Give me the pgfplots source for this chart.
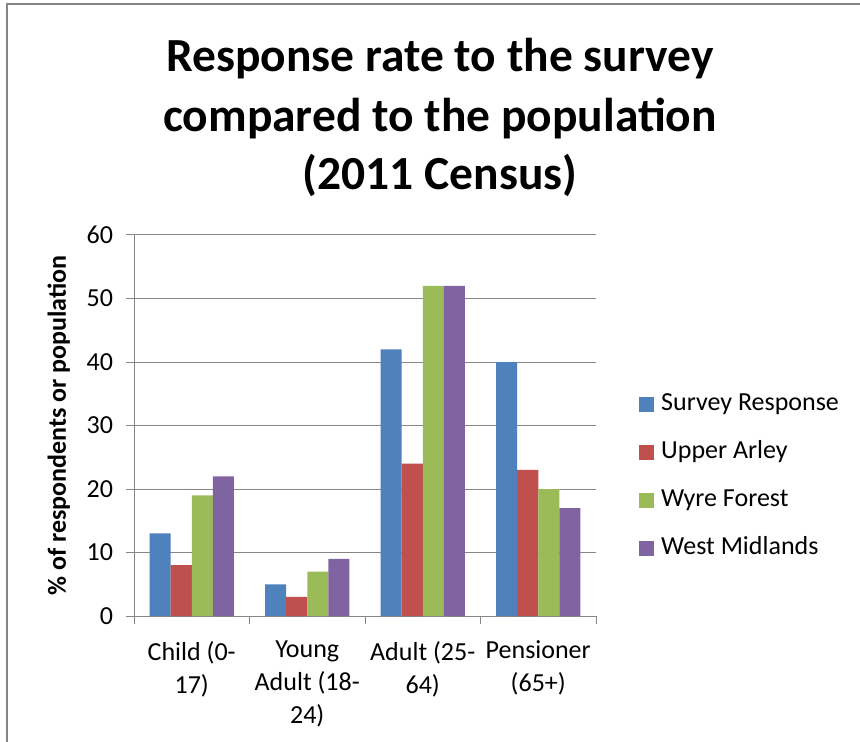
\documentclass[border=0pt]{standalone}
\usepackage{fontspec}
\setmainfont{Carlito}
\usepackage{pgfplots}
\pgfplotsset{compat=1.18}

\definecolor{srv}{HTML}{4F81BD}
\definecolor{ua}{HTML}{C0504D}
\definecolor{wf}{HTML}{9BBB59}
\definecolor{wm}{HTML}{8064A2}
\definecolor{axgray}{HTML}{868686}

\newcommand\smallfont{\fontsize{26}{33}\selectfont}
\pgfplotsset{sqlegend/.style={legend image code/.code={\fill[##1,draw=none] (0pt,-7.5pt) rectangle (15pt,7.5pt);}}}

\begin{document}
\begin{tikzpicture}
\useasboundingbox (0,0) rectangle (860pt,742pt);
\fill[white] (0,0) rectangle (860pt,742pt);
\draw[axgray, line width=1.5pt] (7pt,-5pt) -- (7pt,738pt) -- (865pt,738pt);

% title, three lines
\begin{scope}[every node/.style={font=\fontsize{47.5}{57}\selectfont\bfseries, anchor=base, inner sep=0pt}]
\node at (440pt,670pt) {Response rate to the survey};
\node at (440pt,610pt) {compared to the population};
\node at (440pt,552pt) {(2011 Census)};
\end{scope}

\begin{axis}[
  at={(134pt,126pt)}, anchor=south west,
  scale only axis, width=462pt, height=381pt,
  ybar=0pt, bar width=0.182,
  xmin=-0.5, xmax=3.5, ymin=0, ymax=60,
  xtick={-0.5,0.5,1.5,2.5,3.5},
  x tick label as interval,
  xticklabels={{Child (0-\\17)},{Young\\Adult (18-\\24)},{Adult (25-\\64)},{Pensioner\\(65+)}},
  ytick={0,10,...,60},
  ymajorgrids, grid style={axgray, line width=1pt},
  axis x line*=bottom, axis y line*=left,
  axis line style={axgray, line width=1pt},
  tick style={axgray, line width=1pt},
  tick align=outside, xtick align=outside, ytick align=outside,
  major tick length=7.5pt,
  ticklabel style={font=\smallfont},
  /pgf/number format/assume math mode=true,
  xticklabel style={align=center, yshift=-14pt},
  yticklabel style={xshift=-10pt},
  ylabel={\% of respondents or population},
  ylabel style={font=\smallfont\bfseries, at={(axis description cs:-0.163,0.5)}, anchor=center},
  legend style={draw=none, fill=none, at={(1.093,0.367)}, anchor=west, inner sep=0pt,
    font=\smallfont, row sep=23pt, column sep=7pt,
    nodes={inner sep=0pt, text height=19pt, text depth=6pt}},
  legend cell align=left,
]
\addplot[fill=srv, draw=none, sqlegend, bar shift=-0.273] coordinates {(0,13) (1,5) (2,42) (3,40)};
\addplot[fill=ua, draw=none, sqlegend, bar shift=-0.091] coordinates {(0,8) (1,3) (2,24) (3,23)};
\addplot[fill=wf, draw=none, sqlegend, bar shift=0.091] coordinates {(0,19) (1,7) (2,52) (3,20)};
\addplot[fill=wm, draw=none, sqlegend, bar shift=0.273] coordinates {(0,22) (1,9) (2,52) (3,17)};
\legend{Survey Response, Upper Arley, Wyre Forest, West Midlands}
\end{axis}
\end{tikzpicture}
\end{document}
